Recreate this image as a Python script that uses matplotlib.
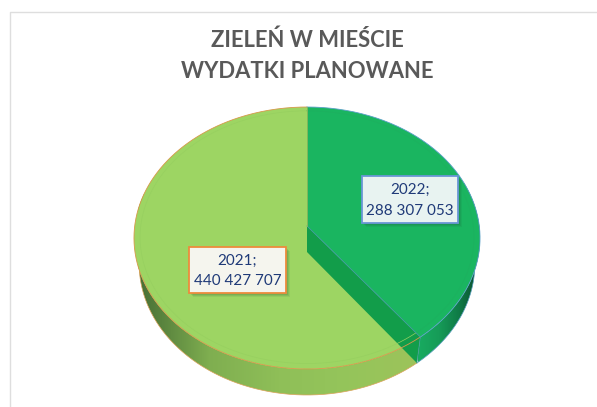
import numpy as np
import matplotlib
matplotlib.use('Agg')
import matplotlib.pyplot as plt
from matplotlib.colors import LinearSegmentedColormap
from matplotlib.patches import Polygon, Rectangle

title_lines = ['ZIELEŃ W MIEŚCIE', 'WYDATKI PLANOWANE']
years = ['2022', '2021']
values = [288307053, 440427707]

plt.rcParams['font.family'] = ['Lato', 'DejaVu Sans']

W, H = 597, 407
fig = plt.figure(figsize=(W / 100, H / 100), dpi=100)
ax = fig.add_axes([0, 0, 1, 1])
ax.set_xlim(0, W)
ax.set_ylim(H, 0)
ax.axis('off')

# pie geometry, pixels. tilted disc with a bit of perspective
cx, cy = 307, 226
rx, ry = 172.3, 129.9
persp = 0.0916
depth = 26
shrink = 0.97


def disc(theta, r=1.0, drop=0, sx=1.0):
    # theta in degrees, clockwise from the top
    t = np.radians(theta)
    u = r * np.sin(t)
    v = -r * np.cos(t)
    w = 1 - persp * v
    return np.column_stack([cx + sx * rx * u / w, cy + drop + ry * v / w])


split = 360 * values[0] / sum(values)
th_dark = np.linspace(0, split, 200)
th_light = np.linspace(split, 360, 300)
centre = np.array([[cx, cy]])

# frame of the chart
ax.plot([10, 10, W], [H, 12, 12], color='#dedede', lw=1.0)

# side of the disc
dark_cm = LinearSegmentedColormap.from_list('d', ['#18ab60', '#169c58', '#0f7a46', '#0a4a2c'])
light_cm = LinearSegmentedColormap.from_list('l', ['#476f35', '#7fae50', '#8fbf58', '#95c55b', '#9dc35a'])
for ths, cm, x0, x1 in [(np.linspace(70, split, 120), dark_cm, 418, 480),
                        (np.linspace(split, 285, 200), light_cm, 138, 420)]:
    top = disc(ths)
    bot = disc(ths, drop=depth, sx=shrink)
    poly = Polygon(np.vstack([top, bot[::-1]]), closed=True, fc='none', ec='none')
    ax.add_patch(poly)
    im = ax.imshow(np.linspace(0, 1, 128).reshape(1, -1), cmap=cm, aspect='auto',
                   extent=[x0, x1, 400, 100], zorder=1)
    im.set_clip_path(poly)
    ax.plot(bot[:, 0], bot[:, 1], color='#dba35a' if cm is light_cm else '#5a9fc0', lw=0.5, zorder=2)

ax.set_xlim(0, W)
ax.set_ylim(H, 0)

# top of the light slice
light_top = np.vstack([centre, disc(th_light)])
ax.add_patch(Polygon(light_top, closed=True, fc='#9dd563', ec='none', zorder=3))

# cut face between the slices
p_in = np.array([cx, cy])
p_end = disc(np.array([split]))[0]
p_end2 = disc(np.array([split]), drop=depth, sx=shrink)[0]
face = [p_in, p_end, p_end2, p_in + [0, depth]]
ax.add_patch(Polygon(face, closed=True, fc='#129d4a', ec='none', zorder=4))

# top of the dark slice
dark_top = np.vstack([centre, disc(th_dark)])
ax.add_patch(Polygon(dark_top, closed=True, fc='#1ab560', ec='none', zorder=5))

# faint inner ring and slice outlines
ring_l = disc(th_light, r=0.965)
ring_d = disc(th_dark, r=0.965)
ax.plot(ring_l[:, 0], ring_l[:, 1], color='#97d060', lw=0.5, zorder=5)
ax.plot(ring_d[:, 0], ring_d[:, 1], color='#1db05f', lw=0.5, zorder=5)
edge_l = disc(th_light)
edge_d = disc(th_dark)
ax.plot(edge_l[:, 0], edge_l[:, 1], color='#d8984a', lw=0.6, zorder=6)
ax.plot(edge_d[:, 0], edge_d[:, 1], color='#5aa0c8', lw=0.6, zorder=6)
ax.plot([cx, p_end[0]], [cy, p_end[1]], color='#3f9aa0', lw=0.6, zorder=6)
ax.plot([p_end[0], p_end2[0]], [p_end[1], p_end2[1]], color='#3f9aa0', lw=0.5, zorder=6)
ax.plot([cx, cx], [cy, cy - ry / (1 + persp)], color='#a9b85a', lw=0.5, zorder=6)

# data labels
boxes = [(362, 176, 96, 47, '#e8f3f1', '#6a96d6'), (189, 247, 97, 46, '#f5f5ee', '#ed8b3c')]
for year, val, (bx, by, bw, bh, fc, ec) in zip(years, values, boxes):
    for off, a in [(4, 0.08), (3, 0.10), (2, 0.12)]:
        ax.add_patch(Rectangle((bx + off, by + off), bw, bh, fc='#1c4a30', ec='none', alpha=a, zorder=7))
    ax.add_patch(Rectangle((bx, by), bw, bh, fc=fc, ec=ec, lw=1.3, zorder=8))
    num = f'{val:,}'.replace(',', ' ')
    ax.text(bx + bw / 2, by + bh * 0.30, year + ';', ha='center', va='center', fontsize=11,
            color='#1f3a78', zorder=9)
    ax.text(bx + bw / 2, by + bh * 0.74, num, ha='center', va='center', fontsize=11,
            color='#1f3a78', zorder=9)

# title
ax.text(307, 40, title_lines[0], ha='center', va='center', fontsize=15.8, fontweight='bold', color='#595959')
ax.text(307, 71, title_lines[1], ha='center', va='center', fontsize=15.8, fontweight='bold', color='#595959')

fig.savefig('out.png', dpi=100)
